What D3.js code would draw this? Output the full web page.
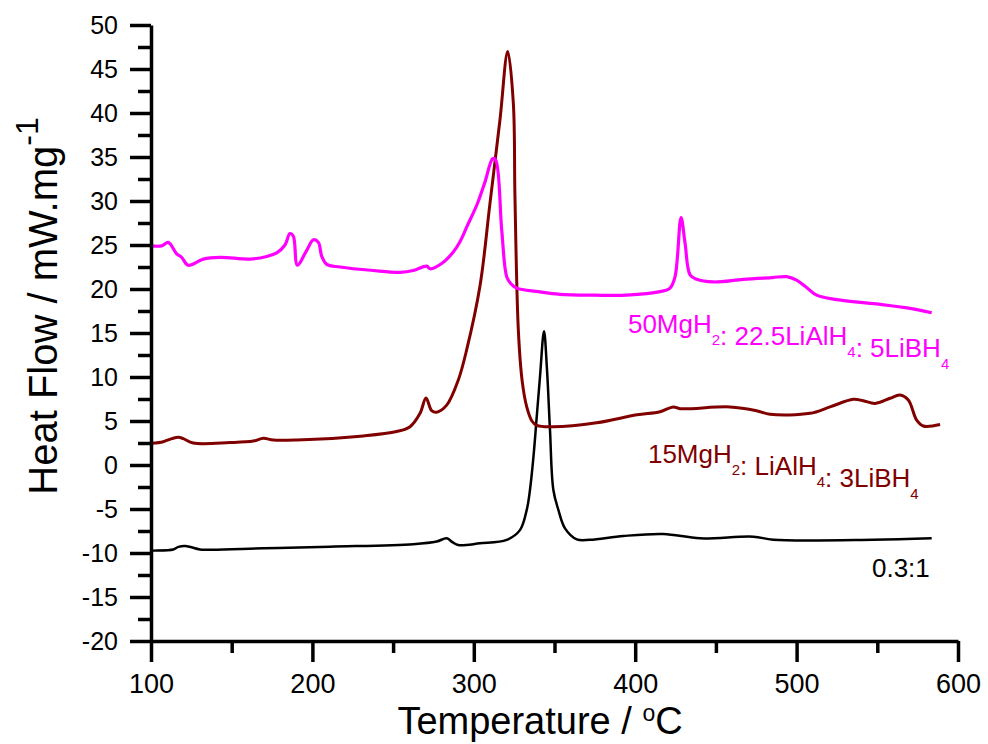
<!DOCTYPE html>
<html><head><meta charset="utf-8">
<script src="https://cdn.jsdelivr.net/npm/d3@7"></script>
<style>
body{margin:0;background:#fff}
svg{display:block;background:#fff}
text{font-family:"Liberation Sans",Arial,Helvetica,sans-serif}
</style>
</head><body>
<svg id="chart" width="988" height="744"></svg>
<script>
// ---------- data ----------
const xTicks = [100, 200, 300, 400, 500, 600];
const xMinorTicks = [150, 250, 350, 450, 550];
const yTicks = [-20, -15, -10, -5, 0, 5, 10, 15, 20, 25, 30, 35, 40, 45, 50];
const yMinorTicks = [-17.5, -12.5, -7.5, -2.5, 2.5, 7.5, 12.5, 17.5, 22.5, 27.5, 32.5, 37.5, 42.5, 47.5];

const magentaTemp = [100, 106.6, 110.7, 115.9, 119, 123, 132.4, 142.8, 161.3, 171.7, 177.9, 183, 186.1, 188.2, 190.7, 196.5, 200.6, 203.7, 205.8, 208.9, 217.1, 237.7, 254.3, 262.5, 270.8, 272.9, 280.1, 287.3, 291.5, 296, 302, 307, 311.7, 313.5, 317.3, 320.4, 323, 326.6, 340, 353.4, 375, 394.7, 415.4, 421.6, 424.7, 428.4, 430.9, 434, 438.1, 448.4, 467, 485, 493.9, 500, 506, 512.4, 524.8, 549.6, 570.3, 583.7];
const magentaFlow = [24.9, 24.9, 25.3, 24.0, 23.6, 22.7, 23.4, 23.6, 23.4, 23.7, 24.1, 25.0, 26.3, 26.0, 22.7, 24.4, 25.6, 25.3, 23.7, 22.8, 22.5, 22.1, 21.9, 22.1, 22.6, 22.3, 22.9, 24.2, 25.4, 27.2, 29.6, 32.2, 34.8, 34.7, 26.7, 21.4, 20.6, 20.1, 19.7, 19.4, 19.3, 19.3, 19.7, 20.1, 21.4, 28.1, 25.2, 21.6, 21.1, 20.8, 21.1, 21.3, 21.4, 21.0, 20.2, 19.3, 18.8, 18.3, 17.8, 17.3];

const wineTemp = [100.4, 107.6, 113, 116.9, 120, 126.2, 149, 163.4, 169.6, 175.8, 190.3, 231.5, 252.2, 260.5, 266.7, 270.4, 273.9, 277, 283.2, 290.4, 295.6, 303.8, 310, 316.2, 321, 324.5, 325.5, 327.6, 330, 332.8, 336, 339, 349.3, 376.1, 401, 415.4, 423.6, 427.8, 458.7, 475.2, 483.5, 508.3, 520.7, 535.1, 541.3, 548.6, 557.9, 564, 569.2, 574.4, 578.5, 588.9];
const wineFlow = [2.46, 2.65, 3.0, 3.15, 3.0, 2.5, 2.55, 2.72, 3.03, 2.84, 2.85, 3.3, 3.8, 4.35, 5.87, 7.6, 6.17, 6.0, 6.8, 9.66, 13.1, 20.3, 29.7, 39.2, 47.0, 41.1, 30.5, 15.3, 9.5, 6.6, 5.0, 4.5, 4.35, 4.8, 5.7, 6.06, 6.6, 6.4, 6.6, 6.17, 5.76, 5.87, 6.6, 7.46, 7.3, 7.0, 7.58, 7.95, 7.39, 5.1, 4.43, 4.6];

const blackTemp = [100, 101.4, 113.8, 117, 121.1, 125, 130.4, 169.6, 210.9, 262.5, 277, 283.2, 287, 290.4, 303.8, 320.4, 328.6, 332.8, 334.8, 337, 339, 341, 343.5, 345.3, 347.2, 349.3, 352.4, 356.5, 363.8, 372, 392.6, 417.4, 440.2, 473.2, 485.6, 547.5, 583.7];
const blackFlow = [-9.75, -9.73, -9.6, -9.3, -9.2, -9.35, -9.6, -9.47, -9.28, -9.0, -8.7, -8.33, -8.8, -9.1, -8.9, -8.5, -7.4, -5.1, -2.84, 1, 5.5, 10, 15.2, 11.0, 4.0, -2.84, -5.1, -7.2, -8.45, -8.5, -8.07, -7.84, -8.33, -8.14, -8.5, -8.5, -8.33];

const seriesNames = ["50MgH2: 22.5LiAlH4: 5LiBH4", "15MgH2: LiAlH4: 3LiBH4", "0.3:1"];

// ---------- layout ----------
const svg = d3.select("#chart");
const x = d3.scaleLinear().domain([100, 600]).range([151, 958]);
const y = d3.scaleLinear().domain([-20, 50]).range([641, 25]);

const series = [
  {temp: magentaTemp, flow: magentaFlow, color: "#FF00FF", width: 3.2},
  {temp: wineTemp, flow: wineFlow, color: "#800000", width: 3},
  {temp: blackTemp, flow: blackFlow, color: "#000000", width: 2.5}
];

const line = d3.line().x(d => x(d[0])).y(d => y(d[1])).curve(d3.curveCatmullRom.alpha(0.5));
[series[2], series[1], series[0]].forEach(s => {
  svg.append("path")
    .datum(s.temp.map((t, i) => [t, s.flow[i]]))
    .attr("fill", "none")
    .attr("stroke", s.color)
    .attr("stroke-width", s.width)
    .attr("stroke-linejoin", "round")
    .attr("d", line);
});

// ---------- axes ----------
function styleAxis(g) {
  g.selectAll("path.domain").attr("stroke", "#000").attr("stroke-width", 3.5);
  g.selectAll(".tick line").attr("stroke", "#000").attr("stroke-width", 3.5);
  g.selectAll("text").attr("fill", "#000").style("font-family", '"Liberation Sans",Arial,sans-serif');
}

const gxMinor = svg.append("g").attr("transform", "translate(0,641)")
  .call(d3.axisBottom(x).tickValues(xMinorTicks).tickSize(12).tickSizeOuter(0).tickFormat(""));
styleAxis(gxMinor);
gxMinor.select("path.domain").remove();

const gx = svg.append("g").attr("transform", "translate(0,641)")
  .call(d3.axisBottom(x).tickValues(xTicks).tickSize(21).tickSizeOuter(0).tickPadding(12).tickFormat(d => String(d)));
styleAxis(gx);
gx.selectAll("text").attr("font-size", 27);

const gyMinor = svg.append("g").attr("transform", "translate(151,0)")
  .call(d3.axisLeft(y).tickValues(yMinorTicks).tickSize(13).tickSizeOuter(0).tickFormat(""));
styleAxis(gyMinor);
gyMinor.select("path.domain").remove();

const gy = svg.append("g").attr("transform", "translate(151,0)")
  .call(d3.axisLeft(y).tickValues(yTicks).tickSize(21).tickSizeOuter(0).tickPadding(12).tickFormat(d => String(d)));
styleAxis(gy);
gy.selectAll("text").attr("font-size", 25);

// ---------- axis titles ----------
const xt = svg.append("text")
  .attr("x", 540).attr("y", 734)
  .attr("text-anchor", "middle").attr("font-size", 38).attr("fill", "#000");
xt.append("tspan").text("Temperature / ");
xt.append("tspan").attr("font-size", 23).attr("dy", -13).text("o");
xt.append("tspan").attr("dy", 13).text("C");

const yt = svg.append("text")
  .attr("transform", "translate(57,306) rotate(-90)")
  .attr("text-anchor", "middle").attr("font-size", 40).attr("fill", "#000");
yt.append("tspan").text("Heat Flow / mW.mg");
yt.append("tspan").attr("font-size", 32).attr("dy", -19).text("-1");

// ---------- annotations ----------
function subLabel(parts, tx, ty, color) {
  const t = svg.append("text").attr("x", x(tx)).attr("y", y(ty))
    .attr("font-size", 26).attr("fill", color);
  parts.forEach(p => {
    if (p.sub) {
      t.append("tspan").attr("font-size", 15).attr("dy", 12).text(p.s);
      t.append("tspan").attr("dy", -12).text("");
    } else {
      t.append("tspan").text(p.s);
    }
  });
}
function splitSub(name) {
  const parts = [];
  const re = /H(\d)/g;
  let last = 0, m;
  while ((m = re.exec(name)) !== null) {
    parts.push({s: name.slice(last, m.index + 1)});
    parts.push({s: m[1], sub: true});
    last = m.index + 2;
  }
  if (last < name.length) parts.push({s: name.slice(last)});
  return parts;
}
subLabel(splitSub(seriesNames[0]), 395.5, 15.0, "#FF00FF");
subLabel(splitSub(seriesNames[1]), 407.9, 0.26, "#800000");
subLabel(splitSub(seriesNames[2]), 546.7, -12.7, "#000000");
</script>
</body></html>
